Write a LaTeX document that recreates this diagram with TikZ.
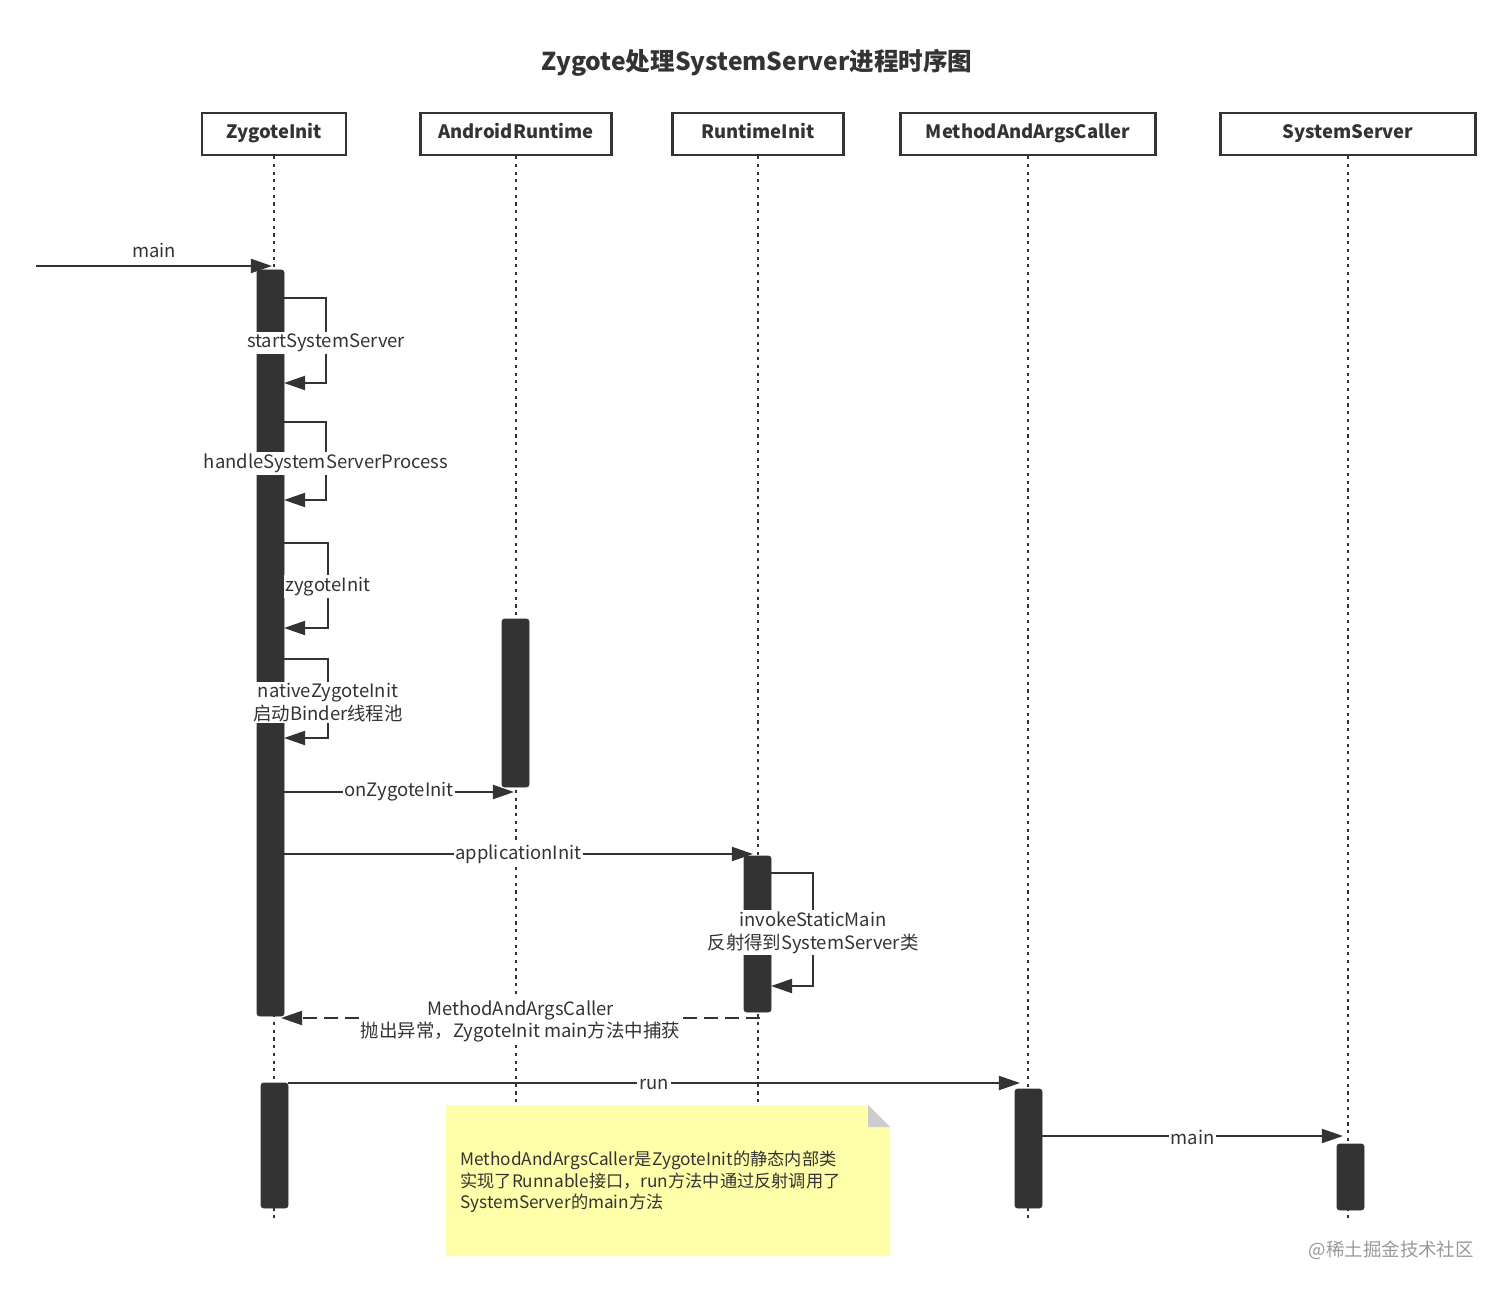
\documentclass[tikz,border=0pt]{standalone}
\usepackage{fontspec}
\setmainfont{Noto Sans CJK SC}
\usetikzlibrary{arrows.meta}
\definecolor{ink}{HTML}{333333}
\begin{document}
\begin{tikzpicture}[x=0.02cm,y=-0.02cm,
  hdr/.style={draw=ink,line width=1.2pt,minimum height=42*0.02cm,inner sep=0pt,text height=8pt,text depth=2.5pt,font=\bfseries\fontsize{10.5}{12}\selectfont,text=ink},
  life/.style={ink,line width=1.5pt,dash pattern=on 1.8pt off 2.6pt},
  bar/.style={fill=ink,draw=ink,rounded corners=1.5pt},
  msg/.style={ink,line width=1.1pt,-{Triangle[length=12pt,width=8pt]}},
  ret/.style={msg,dash pattern=on 8pt off 4pt},
  lbl/.style={fill=white,inner sep=1pt,text=ink,font=\fontsize{10.5}{12.8}\selectfont,align=center}]
\useasboundingbox (0,0) rectangle (1512,1294);
\node[font=\bfseries\fontsize{14}{16}\selectfont,text=ink] (title) at (757,63) {Zygote处理SystemServer进程时序图};
% headers
\node[hdr,minimum width=144*0.02cm] (zi) at (274,134) {ZygoteInit};
\node[hdr,minimum width=191*0.02cm] (ar) at (516,134) {AndroidRuntime};
\node[hdr,minimum width=171*0.02cm] (ri) at (758,134) {RuntimeInit};
\node[hdr,minimum width=255*0.02cm] (mc) at (1028,134) {MethodAndArgsCaller};
\node[hdr,minimum width=255*0.02cm] (ss) at (1348,134) {SystemServer};
% lifelines
\coordinate (ziE) at (274,1218); \coordinate (arE) at (516,1218);
\coordinate (riE) at (758,1218); \coordinate (mcE) at (1028,1218);
\coordinate (ssE) at (1348,1218);
\draw[life] (zi.south) -- (ziE);
\draw[life] (ar.south) -- (arE);
\draw[life] (ri.south) -- (riE);
\draw[life] (mc.south) -- (mcE);
\draw[life] (ss.south) -- (ssE);
% bars
\draw[bar] (257,270) rectangle (284,1016);
\draw[bar] (261,1083) rectangle (288,1208);
\draw[bar] (502,619) rectangle (529,787);
\draw[bar] (744,856) rectangle (771,1012);
\draw[bar] (1015,1089) rectangle (1042,1208);
\draw[bar] (1337,1144) rectangle (1364,1210);
% main
\coordinate (start) at (36,266);
\coordinate (m1) at (272,266);
\draw[msg] (start) -- node[lbl,fill=none,above=3pt] {main} (m1);
% self calls
\draw[msg] (284,298) -- (326,298) -- node[lbl,pos=0.53]{startSystemServer} (326,383) -- (284,383);
\draw[msg] (284,422) -- (326,422) -- node[lbl,pos=0.53]{handleSystemServerProcess} (326,500) -- (284,500);
\draw[msg] (284,543) -- (328,543) -- node[lbl,pos=0.51]{zygoteInit} (328,628) -- (284,628);
\draw[msg] (284,659) -- (328,659) -- node[lbl,pos=0.55]{nativeZygoteInit\\启动Binder线程池} (328,738) -- (284,738);
\draw[msg] (771,873) -- (813,873) -- node[lbl,pos=0.53]{invokeStaticMain\\反射得到SystemServer类} (813,986) -- (771,986);
% messages
\draw[msg] (284,792) -- node[lbl,pos=0.5]{onZygoteInit} (514,792);
\draw[msg] (284,854) -- node[lbl,pos=0.5]{applicationInit} (753,854);
\draw[ret] (760,1018) -- node[lbl,pos=0.5,yshift=-2pt]{MethodAndArgsCaller\\抛出异常，ZygoteInit main方法中捕获} (281,1018);
\draw[msg] (288,1083) -- node[lbl,pos=0.5,yshift=-1pt]{run} (1020,1083);
\draw[msg] (1042,1136) -- node[lbl,pos=0.5,yshift=-1pt]{main} (1343,1136);
% note
\fill[fill={rgb,255:red,255;green,255;blue,170}] (446,1105) -- (868,1105) -- (890,1127) -- (890,1256) -- (446,1256) -- cycle;
\fill[fill={rgb,255:red,204;green,204;blue,204}] (868,1105) -- (890,1127) -- (868,1127) -- cycle;
\node[anchor=north west,align=left,inner sep=0pt,text=ink,font=\fontsize{9.8}{12.2}\selectfont] (note) at (460,1151) {MethodAndArgsCaller是ZygoteInit的静态内部类\\实现了Runnable接口，run方法中通过反射调用了\\SystemServer的main方法};
\node[text=gray!80,font=\fontsize{10.5}{12}\selectfont,anchor=east] (wm) at (1480,1250) {@稀土掘金技术社区};
\end{tikzpicture}
\end{document}
